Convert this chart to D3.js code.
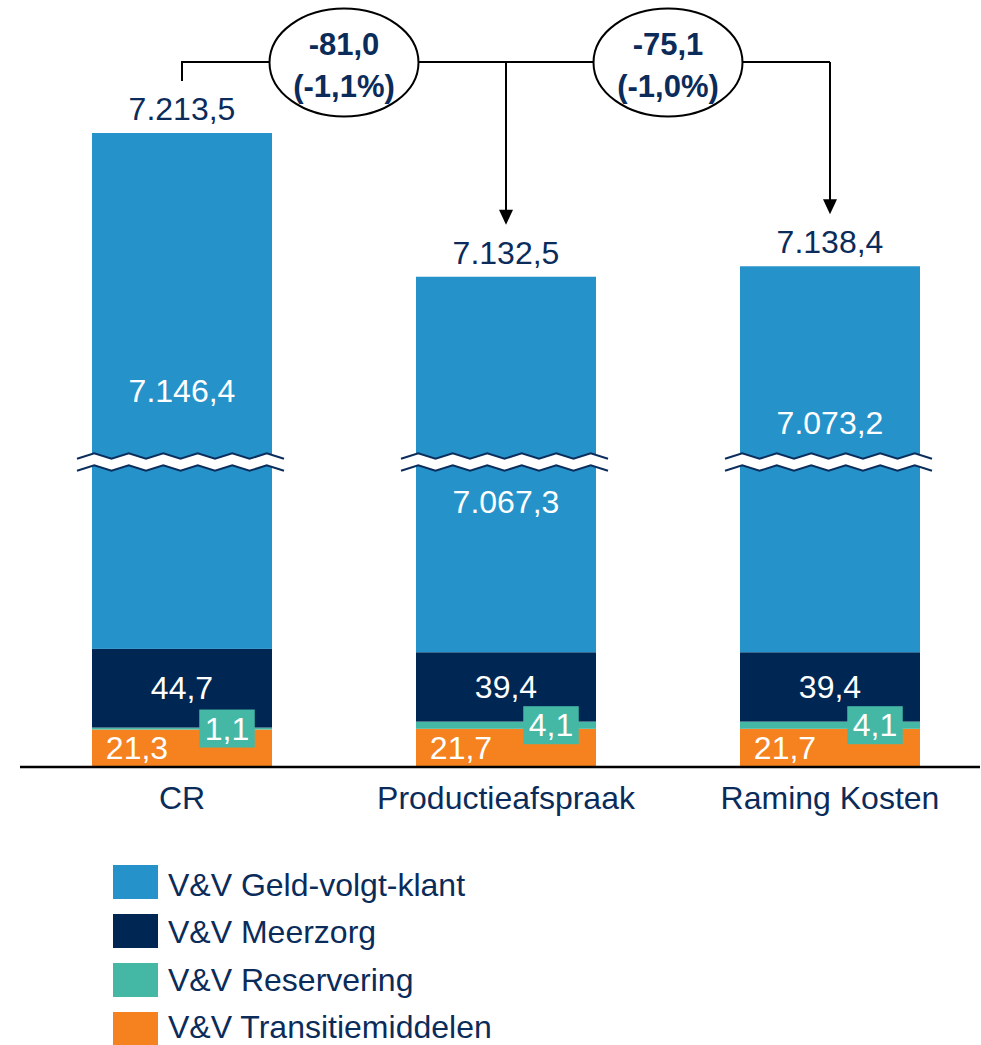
<!DOCTYPE html>
<html>
<head>
<meta charset="utf-8">
<script src="https://cdn.jsdelivr.net/npm/d3@7"></script>
<style>
  html, body { margin: 0; padding: 0; background: #ffffff; }
  svg { display: block; }
  text { font-family: "Liberation Sans", Arial, sans-serif; }
</style>
</head>
<body>
<script>
// ---- data ----
const categories = ["CR", "Productieafspraak", "Raming Kosten"];
const seriesNames = ["V&V Transitiemiddelen", "V&V Reservering", "V&V Meerzorg", "V&V Geld-volgt-klant"]; // bottom -> top
const transitiemiddelen = [21.3, 21.7, 21.7];
const reservering = [1.1, 4.1, 4.1];
const meerzorg = [44.7, 39.4, 39.4];
const geldVolgtKlant = [7146.4, 7067.3, 7073.2];
const totals = [7213.5, 7132.5, 7138.4];
const legendOrder = ["V&V Geld-volgt-klant", "V&V Meerzorg", "V&V Reservering", "V&V Transitiemiddelen"];
const comparisons = [[0, 1], [0, 2]]; // from-index, to-index
const axisBreak = [173.3, 7028.1]; // values hidden by the axis break

// ---- style ----
const colors = {
  "V&V Geld-volgt-klant": "#2593ca",
  "V&V Meerzorg": "#002753",
  "V&V Reservering": "#45b8a5",
  "V&V Transitiemiddelen": "#f5821f"
};
const textColor = "#0b2c5a";
const fontSize = 32;
const blueLabelShift = [0, 38, -36];

const W = 981, H = 1045;
const svg = d3.select("body").append("svg").attr("width", W).attr("height", H);

const nl = d3.formatLocale({decimal: ",", thousands: ".", grouping: [3], currency: ["€", ""]});
const fmt = nl.format(",.1f");
const fmtSigned = v => (v < 0 ? "-" : "+") + nl.format(",.1f")(Math.abs(v));

const x = d3.scaleBand().domain(categories).range([20, 992]).paddingInner(1 - 180 / 324).paddingOuter((1 - 180 / 324) / 2);
const y = d3.scaleLinear()
  .domain([0, axisBreak[0], axisBreak[1], d3.max(totals)])
  .range([767, 462, 462, 133]);

const seriesData = {
  "V&V Transitiemiddelen": transitiemiddelen,
  "V&V Reservering": reservering,
  "V&V Meerzorg": meerzorg,
  "V&V Geld-volgt-klant": geldVolgtKlant
};
const rows = categories.map((c, i) => {
  const r = {category: c};
  seriesNames.forEach(s => r[s] = seriesData[s][i]);
  return r;
});
const stacked = d3.stack().keys(seriesNames)(rows);

// bars
const layers = svg.append("g").selectAll("g").data(stacked).join("g")
  .attr("fill", d => colors[d.key]);
layers.selectAll("rect").data(d => d).join("rect")
  .attr("x", d => x(d.data.category))
  .attr("width", x.bandwidth())
  .attr("y", d => y(d[1]))
  .attr("height", d => y(d[0]) - y(d[1]));

// axis break markers
const bw = x.bandwidth();
categories.forEach(c => {
  const cx = x(c) + bw / 2;
  const yb = y(axisBreak[0]);
  const x0 = cx - 105, x1 = cx + 104;
  const half = 17.25, amp = 2.8;
  const pts = [];
  for (let k = 0, xx = x0; xx <= x1 + 0.01; k++, xx = x0 + k * half) {
    pts.push([Math.min(xx, x1), (k % 2 === 0 ? amp : -amp)]);
  }
  const top = pts.map(p => [p[0], yb - 6 + p[1]]);
  const bot = pts.map(p => [p[0], yb + 6 + p[1]]);
  const line = d3.line();
  svg.append("path")
    .attr("d", line(top.concat(bot.slice().reverse())) + "Z")
    .attr("fill", "#ffffff");
  svg.append("path").attr("d", line(top)).attr("fill", "none").attr("stroke", "#0b2d5c").attr("stroke-width", 2);
  svg.append("path").attr("d", line(bot)).attr("fill", "none").attr("stroke", "#0b2d5c").attr("stroke-width", 2);
});

// baseline
svg.append("line").attr("x1", 20).attr("x2", 980).attr("y1", y(0)).attr("y2", y(0))
  .attr("stroke", "#000").attr("stroke-width", 2.5);

// segment labels
const labels = svg.append("g").attr("font-size", fontSize).attr("fill", "#ffffff");
categories.forEach((c, i) => {
  const bx = x(c);
  const sT = stacked[0][i];
  labels.append("text").attr("x", bx + bw / 4).attr("y", (y(sT[0]) + y(sT[1])) / 2 + 11)
    .attr("text-anchor", "middle").text(fmt(transitiemiddelen[i]));
  const sM = stacked[2][i];
  labels.append("text").attr("x", bx + bw / 2).attr("y", (y(sM[0]) + y(sM[1])) / 2 + 11)
    .attr("text-anchor", "middle").text(fmt(meerzorg[i]));
  const sG = stacked[3][i];
  labels.append("text").attr("x", bx + bw / 2).attr("y", (y(sG[0]) + y(sG[1])) / 2 + 11 + blueLabelShift[i])
    .attr("text-anchor", "middle").text(fmt(geldVolgtKlant[i]));
  const sR = stacked[1][i];
  const ry = (y(sR[0]) + y(sR[1])) / 2;
  const t = svg.append("text").attr("x", bx + bw * 0.75).attr("y", ry + 11)
    .attr("text-anchor", "middle").attr("font-size", fontSize).attr("fill", "#ffffff")
    .text(fmt(reservering[i]));
  const tw = t.node().getComputedTextLength();
  svg.insert("rect", () => t.node())
    .attr("x", bx + bw * 0.75 - tw / 2 - 5.5).attr("y", ry - 19)
    .attr("width", tw + 11).attr("height", 38)
    .attr("fill", colors["V&V Reservering"]);
  svg.append("text").attr("x", bx + bw / 2).attr("y", y(totals[i]) - 13)
    .attr("text-anchor", "middle").attr("font-size", fontSize).attr("fill", textColor)
    .text(fmt(totals[i]));
  svg.append("text").attr("x", bx + bw / 2).attr("y", 809)
    .attr("text-anchor", "middle").attr("font-size", fontSize).attr("fill", textColor)
    .text(c);
});

// comparison brackets
const lineY = 62;
const g = svg.append("g");
const cxOf = i => x(categories[i]) + bw / 2;
const startTop = y(totals[0]) - 52;
g.append("path")
  .attr("d", `M${cxOf(0)},${startTop}V${lineY}H${cxOf(categories.length - 1)}`)
  .attr("fill", "none").attr("stroke", "#000").attr("stroke-width", 2);
comparisons.forEach(([a, b]) => {
  const xb = cxOf(b);
  const tip = y(totals[b]) - 52;
  g.append("line").attr("x1", xb).attr("x2", xb).attr("y1", lineY).attr("y2", tip - 12)
    .attr("stroke", "#000").attr("stroke-width", 2);
  g.append("path").attr("d", `M${xb - 7},${tip - 15}L${xb + 7},${tip - 15}L${xb},${tip}Z`).attr("fill", "#000");
});
comparisons.forEach(([a, b]) => {
  const xm = (cxOf(b - 1) + cxOf(b)) / 2;
  const diff = totals[b] - totals[a];
  const pct = diff / totals[a] * 100;
  g.append("ellipse").attr("cx", xm).attr("cy", 62.5).attr("rx", 74.5).attr("ry", 54)
    .attr("fill", "#fff").attr("stroke", "#000").attr("stroke-width", 2);
  g.append("text").attr("x", xm).attr("y", 55).attr("text-anchor", "middle")
    .attr("font-size", 31).attr("font-weight", "bold").attr("fill", textColor)
    .text(fmtSigned(diff));
  g.append("text").attr("x", xm).attr("y", 97).attr("text-anchor", "middle")
    .attr("font-size", 31).attr("font-weight", "bold").attr("fill", textColor)
    .text("(" + fmtSigned(pct) + "%)");
});

// legend
const legend = svg.append("g");
legendOrder.forEach((name, i) => {
  const ly = 865 + i * 49;
  legend.append("rect").attr("x", 113).attr("y", ly).attr("width", 45).attr("height", 34).attr("fill", colors[name]);
  legend.append("text").attr("x", 168).attr("y", 896 + i * 47.3).attr("font-size", fontSize).attr("fill", textColor).text(name);
});
</script>
</body>
</html>
